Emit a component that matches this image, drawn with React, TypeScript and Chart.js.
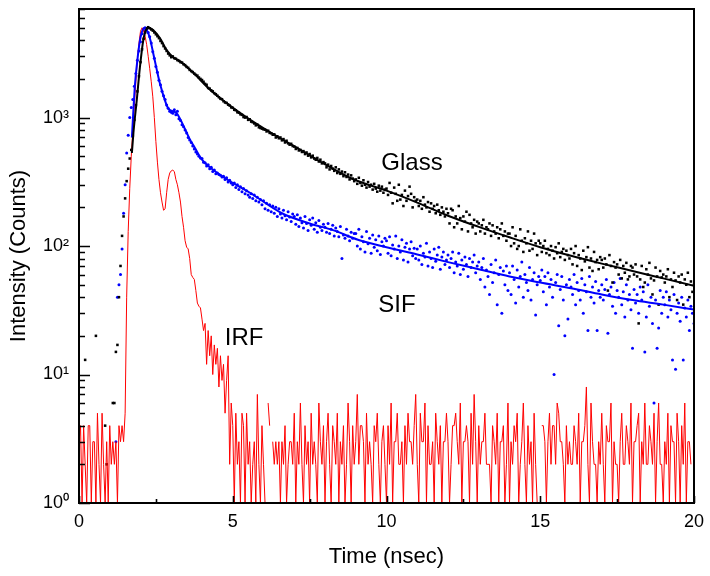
import React, { useEffect, useRef } from 'react';
import { Chart, registerables } from 'chart.js';

Chart.register(...registerables);

// Time channels: every series below is sampled from 0 ns in steps of 0.05 ns (one row = 1 ns)
const T_START = 0;
const T_STEP = 0.05;

// Glass (black dots)
const GLASS_DOTS: (number | null)[] = [
  null, null, null, null, 13, null, null, null, null, null, null, 20, null, null, null, null, null, 4, 2, null,
  null, null, 6, 6, 15, 17, 40, 70, 120, 170, 235, 320, 400, 480, 560, 720, 960, 1250, 1600, 2100,
  2700, 3400, 4100, 4600, 4950, 5050, 4950, 4850, 4750, 4600, 4450, 4300, 4150, 3950, 3800, 3600, 3450, 3300, 3150, 3050,
  2950, 2990, 2900, 2870, 2800, 2760, 2700, 2680, 2600, 2560, 2480, 2440, 2350, 2300, 2260, 2200, 2150, 2120, 2050, 2000,
  1960, 1900, 1830, 1800, 1700, 1680, 1630, 1600, 1550, 1520, 1480, 1440, 1400, 1390, 1340, 1310, 1300, 1260, 1240, 1200,
  1190, 1150, 1140, 1100, 1090, 1060, 1050, 1010, 1000, 1010, 960, 970, 930, 920, 900, 870, 880, 840, 830, 820,
  810, 805, 780, 790, 760, 755, 735, 740, 700, 715, 690, 700, 665, 680, 640, 660, 630, 615, 625, 600,
  595, 570, 580, 555, 560, 540, 548, 520, 535, 505, 520, 490, 505, 480, 470, 485, 455, 470, 440, 450,
  440, 410, 430, 395, 420, 400, 385, 410, 370, 395, 365, 380, 350, 375, 345, 360, 330, 355, 335, 320,
  330, 305, 340, 310, 295, 325, 300, 285, 315, 290, 300, 275, 305, 280, 265, 295, 270, 290, 260, 275,
  280, 250, 310, 260, 215, 285, 255, 225, 300, 230, 250, 205, 270, 225, 245, 290, 255, 200, 240, 225,
  230, 205, 225, 195, 240, 210, 200, 220, 185, 215, 195, 205, 180, 210, 190, 175, 200, 185, 170, 195,
  180, 150, 195, 190, 140, 170, 150, 205, 165, 135, 170, 155, 185, 130, 175, 150, 140, 160, 125, 155,
  150, 130, 145, 160, 125, 140, 135, 150, 120, 145, 130, 125, 140, 115, 135, 150, 120, 130, 110, 125,
  125, 100, 140, 105, 120, 95, 100, 135, 110, 90, 115, 105, 130, 92, 110, 95, 125, 105, 85, 110,
  105, 90, 100, 110, 88, 95, 85, 100, 92, 80, 98, 88, 105, 82, 90, 95, 78, 92, 85, 80,
  95, 72, 88, 100, 70, 85, 80, 65, 92, 76, 82, 98, 68, 80, 64, 90, 75, 78, 66, 82,
  78, 68, 80, 72, 45, 85, 70, 52, 75, 68, 72, 60, 78, 56, 70, 62, 74, 55, 58, 70,
  68, 60, 72, 58, 25, 55, 70, 48, 52, 66, 60, 74, 56, 42, 54, 68, 58, 35, 64, 57,
  60, 52, 58, 66, 40, 55, 48, 62, 54, 38, 58, 52, 60, 35, 55, 50, 62, 40, 53, 44,
  50,
];

// SIF (blue dots)
const SIF_DOTS: (number | null)[] = [
  null, null, null, null, null, null, null, null, null, null, null, null, null, null, null, null, null, null, null, null,
  null, null, null, null, 3, 40, 50, 60, 95, 180, 300, 530, 730, 1000, 1200, 1380, 1750, 2200, 2800, 3300,
  3900, 4500, 4800, 5000, 4900, 4600, 4250, 3800, 3250, 2900, 2500, 2250, 1950, 1800, 1600, 1480, 1380, 1250, 1180, 1120,
  1100, 1080, 1150, 1050, 1120, 980, 950, 880, 850, 800, 760, 700, 670, 640, 600, 570, 540, 520, 500, 485,
  480, 450, 445, 420, 430, 400, 410, 380, 390, 365, 370, 360, 355, 345, 350, 330, 340, 315, 325, 310,
  300, 310, 285, 300, 275, 290, 265, 280, 255, 270, 250, 240, 255, 235, 250, 225, 240, 220, 230, 210,
  225, 195, 215, 190, 210, 185, 205, 180, 200, 170, 195, 178, 165, 190, 172, 160, 185, 168, 155, 178,
  170, 148, 175, 142, 165, 152, 138, 170, 150, 132, 160, 145, 165, 135, 152, 128, 158, 140, 132, 148,
  140, 128, 150, 125, 135, 145, 120, 138, 130, 118, 142, 80, 122, 115, 135, 120, 110, 128, 115, 125,
  125, 100, 135, 95, 118, 108, 90, 130, 104, 115, 88, 122, 98, 112, 92, 120, 86, 108, 100, 115,
  110, 88, 118, 84, 102, 95, 120, 80, 100, 90, 112, 78, 98, 105, 75, 95, 108, 84, 96, 80,
  95, 78, 100, 72, 88, 82, 105, 70, 90, 80, 68, 95, 76, 85, 98, 66, 82, 90, 72, 78,
  85, 68, 80, 90, 62, 75, 70, 88, 60, 78, 66, 82, 72, 58, 80, 68, 75, 85, 62, 70,
  75, 55, 68, 80, 48, 65, 58, 42, 72, 52, 62, 78, 35, 60, 68, 30, 64, 50, 70, 45,
  62, 42, 70, 55, 36, 65, 48, 58, 75, 40, 60, 52, 45, 68, 38, 55, 62, 29, 50, 58,
  54, 65, 44, 58, 35, 62, 48, 55, 40, 10, 52, 60, 24, 46, 58, 38, 20, 50, 27, 55,
  48, 42, 60, 35, 52, 45, 38, 56, 30, 50, 44, 22, 58, 40, 48, 36, 53, 22, 45, 40,
  50, 38, 46, 55, 21, 42, 48, 34, 52, 30, 45, 40, 56, 35, 44, 28, 50, 38, 42, 32,
  16, 46, 36, 42, 30, 48, 38, 44, 15, 28, 50, 34, 40, 25, 6, 38, 16, 23, 45, 30,
  40, 35, 44, 28, 38, 32, 13, 42, 11, 30, 36, 26, 40, 13, 33, 28, 38, 22, 34, 30,
  25,
];

// IRF (red line)
const IRF: (number | null)[] = [
  3, 4, 1, 4, 2, 1, 4, 4, 1, 3, 3, 1, 5, 2, 1, 5, 2, 1, 3, 1,
  4, 2, 3, 2, 3, 1, 4, 3, 4, 3, 5, 40, 130, 280, 500, 800, 1250, 1900, 2900, 3800,
  4700, 5000, 4800, 4300, 3700, 3000, 2400, 1900, 1450, 1000, 650, 450, 330, 260, 220, 190, 195, 260, 330, 370,
  385, 390, 380, 330, 300, 260, 220, 170, 140, 110, 98, 95, 80, 60, 57, 55, 45, 36, 34, 33,
  27, 22, 25, 12, 22, 14, 20, 10, 17, 12, 16, 8, 14, 9, 12, 5, 9, 14, 2, 6,
  4, 1, 5, 2, 3, 1, 5, 4, 1, 5, 2, 3, 1, 2, 3, 1, 7, 2, 1, 4,
  2, 1, null, 6, 4, null, 3, 2, 3, 2, 3, 1, 3, 2, 4, 1, 2, 3, 3, 2,
  5, 1, 3, 2, 6, 2, 1, 4, 2, 3, 1, 5, 2, 3, 2, 1, 6, 3, 2, 4,
  1, 3, 5, 2, 1, 4, 3, 2, 5, 1, 3, 2, 4, 1, 2, 6, 3, 1, 4, 2,
  3, 7, 2, 4, 4, 3, 1, 5, 2, 3, 2, 1, 4, 3, 5, 2, 1, 3, 4, 2,
  1, 4, 2, 6, 1, 3, 3, 5, 2, 2, 3, 1, 4, 2, 5, 3, 3, 2, 4, 7,
  2, 1, 5, 3, 3, 6, 1, 4, 2, 2, 3, 1, 5, 3, 2, 4, 1, 3, 3, 5,
  3, 1, 2, 4, 4, 5, 3, 2, 6, 1, 3, 3, 4, 3, 1, 5, 2, 7, 3, 1,
  4, 2, 3, 3, 5, 2, 2, 2, 1, 4, 3, 2, 5, 1, 3, 3, 4, 1, 2, 6,
  1, 3, 2, 4, 3, 5, 1, 2, 3, 6, 2, 1, 4, 2, 3, 1, 5, 2, 1, null,
  null, 4, 4, 3, 1, 3, 5, 2, 4, 4, 2, 6, 5, 3, 3, 2, 1, 4, 2, 3,
  2, 2, 4, 3, 2, 5, 1, 3, 3, 4, 8, 2, 1, 6, 3, 2, 2, 1, 3, 2,
  5, 2, 1, 4, 3, 3, 6, 1, 3, 2, 2, 1, 3, 5, 2, 2, 4, 3, 2, 6,
  1, 3, 3, 4, 5, 1, 3, 2, 6, 2, 2, 4, 3, 2, 5, 1, 3, 6, 2, 2,
  1, 3, 2, 5, 1, 4, 3, 3, 1, 5, 3, 1, 4, 2, 6, 1, 3, 3, 2, null,
  null,
];

// Fitted decay curves
const GLASS_FIT_T = [1.72, 1.77, 1.88, 1.98, 2.09, 2.2, 2.28, 2.41, 2.63, 2.85, 3.06, 3.28, 3.7, 4.26, 4.8, 5.46, 6.1, 7.2, 8.3, 9, 10, 11, 12, 13, 14, 15, 16, 17, 18, 19, 20];
const GLASS_FIT = [530, 760, 1380, 2450, 4000, 4900, 5000, 4800, 4150, 3350, 2950, 2750, 2250, 1650, 1300, 1000, 800, 560, 395, 325, 270, 218, 172, 141, 117, 98, 84, 73, 64, 56, 49];
const SIF_FIT_T = [1.72, 1.82, 1.92, 2.0, 2.12, 2.2, 2.3, 2.41, 2.53, 2.63, 2.8, 2.9, 3.05, 3.18, 3.39, 3.6, 3.77, 4.0, 4.5, 5.0, 5.56, 6.6, 7.5, 8.26, 9.07, 10, 11, 12, 13, 14, 15, 16, 17, 18, 19, 20];
const SIF_FIT = [700, 1800, 3100, 4200, 5000, 4800, 4200, 3200, 2350, 1850, 1350, 1180, 1120, 1080, 870, 680, 580, 470, 370, 310, 260, 180, 150, 133, 112, 98, 86, 75, 66, 58, 52, 47, 42, 38, 35, 32];

// Axes
const X_TICKS = [0, 2.5, 5, 7.5, 10, 12.5, 15, 17.5, 20];
const X_LABELS: Record<number, string> = { 0: '0', 5: '5', 10: '10', 15: '15', 20: '20' };
const Y_TICKS = [1, 2, 3, 4, 5, 6, 7, 8, 9, 10, 20, 30, 40, 50, 60, 70, 80, 90, 100, 200, 300, 400, 500, 600, 700, 800, 900, 1000, 2000, 3000, 4000, 5000, 6000, 7000];
const Y_LABELS: Record<number, string> = { 1: '10\u2070', 10: '10\u00B9', 100: '10\u00B2', 1000: '10\u00B3' };
const Y_MAJOR = [1, 10, 100, 1000];

// Curve labels (anchored in data units)
const CURVE_LABELS = [
  { text: 'Glass', t: 10.83, v: 443 },
  { text: 'SIF', t: 10.34, v: 34.7 },
  { text: 'IRF', t: 5.37, v: 19.2 },
];

const FONT = '"Liberation Sans", Arial, Helvetica, sans-serif';

const channelPoints = (vals: (number | null)[]) =>
  vals.map((v, i) => ({ x: Math.round((T_START + i * T_STEP) * 100) / 100, y: v }));
const pairPoints = (ts: number[], vs: number[]) => ts.map((t, i) => ({ x: t, y: vs[i] }));

const frameTicksPlugin = {
  id: 'frameTicks',
  afterDatasetsDraw(chart: any) {
    const { ctx, chartArea: a, scales } = chart;
    const xs = scales.x;
    const ys = scales.y;
    ctx.save();
    ctx.strokeStyle = '#000';
    ctx.lineWidth = 1.6;
    ctx.beginPath();
    X_TICKS.forEach((v) => {
      const px = Math.round(xs.getPixelForValue(v)) + 0.5;
      const len = X_LABELS[v] !== undefined ? 7 : 4;
      ctx.moveTo(px, a.bottom);
      ctx.lineTo(px, a.bottom - len);
    });
    Y_TICKS.forEach((v) => {
      const py = Math.round(ys.getPixelForValue(v)) + 0.5;
      const len = Y_MAJOR.includes(v) ? 11 : 6;
      ctx.moveTo(a.left, py);
      ctx.lineTo(a.left + len, py);
    });
    ctx.stroke();
    ctx.lineWidth = 2;
    ctx.strokeRect(a.left, a.top, a.right - a.left, a.bottom - a.top);
    ctx.fillStyle = '#000';
    ctx.font = `24px ${FONT}`;
    ctx.textAlign = 'center';
    ctx.textBaseline = 'middle';
    CURVE_LABELS.forEach((l) => {
      ctx.fillText(l.text, xs.getPixelForValue(l.t), ys.getPixelForValue(l.v));
    });
    ctx.restore();
  },
};

export default function App() {
  const ref = useRef<HTMLCanvasElement | null>(null);
  useEffect(() => {
    if (!ref.current) return;
    const chart = new Chart(ref.current, {
      type: 'scatter',
      data: {
        datasets: [
          {
            label: 'Glass fit',
            data: pairPoints(GLASS_FIT_T, GLASS_FIT),
            showLine: true,
            borderColor: '#000000',
            borderWidth: 2,
            pointRadius: 0,
            cubicInterpolationMode: 'monotone',
          },
          {
            label: 'SIF fit',
            data: pairPoints(SIF_FIT_T, SIF_FIT),
            showLine: true,
            borderColor: '#0000ff',
            borderWidth: 2,
            pointRadius: 0,
            cubicInterpolationMode: 'monotone',
          },
          {
            label: 'IRF',
            data: channelPoints(IRF),
            showLine: true,
            borderColor: '#ff0000',
            borderWidth: 1,
            pointRadius: 0,
            spanGaps: false,
          },
          {
            label: 'Glass',
            data: channelPoints(GLASS_DOTS),
            pointStyle: 'rect',
            pointRadius: 1.8,
            pointBorderWidth: 0,
            backgroundColor: '#000000',
            borderColor: '#000000',
          },
          {
            label: 'SIF',
            data: channelPoints(SIF_DOTS),
            pointStyle: 'circle',
            pointRadius: 1.5,
            pointBorderWidth: 0,
            backgroundColor: '#0000ff',
            borderColor: '#0000ff',
          },
        ] as any,
      },
      options: {
        animation: false,
        responsive: false,
        devicePixelRatio: 1,
        layout: { padding: { left: 0, top: 9, right: 16, bottom: 0 } },
        plugins: { legend: { display: false }, tooltip: { enabled: false } },
        scales: {
          x: {
            type: 'linear',
            min: 0,
            max: 20,
            grid: { display: false, drawTicks: false },
            border: { display: false },
            afterBuildTicks: (s: any) => {
              s.ticks = X_TICKS.map((v) => ({ value: v }));
            },
            afterFit: (s: any) => {
              s.height = 73;
              s.paddingLeft = 0;
              s.paddingRight = 0;
            },
            ticks: {
              autoSkip: false,
              maxRotation: 0,
              padding: 8,
              color: '#000',
              font: { family: FONT, size: 18 },
              callback: (v: any) => X_LABELS[Number(v)] ?? '',
            },
            title: {
              display: true,
              text: 'Time (nsec)',
              color: '#000',
              font: { family: FONT, size: 22 },
              padding: { top: 0, bottom: 6 },
            },
          },
          y: {
            type: 'logarithmic',
            min: 1,
            max: 7000,
            grid: { display: false, drawTicks: false },
            border: { display: false },
            afterBuildTicks: (s: any) => {
              s.ticks = Y_TICKS.map((v) => ({ value: v }));
            },
            afterFit: (s: any) => {
              s.width = 79;
              s.paddingTop = 0;
              s.paddingBottom = 0;
            },
            ticks: {
              autoSkip: false,
              padding: 10,
              color: '#000',
              font: { family: FONT, size: 18 },
              callback: (v: any) => Y_LABELS[Number(v)] ?? '',
            },
            title: {
              display: true,
              text: 'Intensity (Counts)',
              color: '#000',
              font: { family: FONT, size: 22 },
              padding: { top: 6, bottom: 0 },
            },
          },
        },
      },
      plugins: [frameTicksPlugin],
    });
    return () => chart.destroy();
  }, []);
  return (
    <div style={{ position: 'fixed', left: 0, top: 0, width: 710, height: 576, background: '#fff' }}>
      <canvas ref={ref} width={710} height={576} style={{ display: 'block' }} />
    </div>
  );
}
